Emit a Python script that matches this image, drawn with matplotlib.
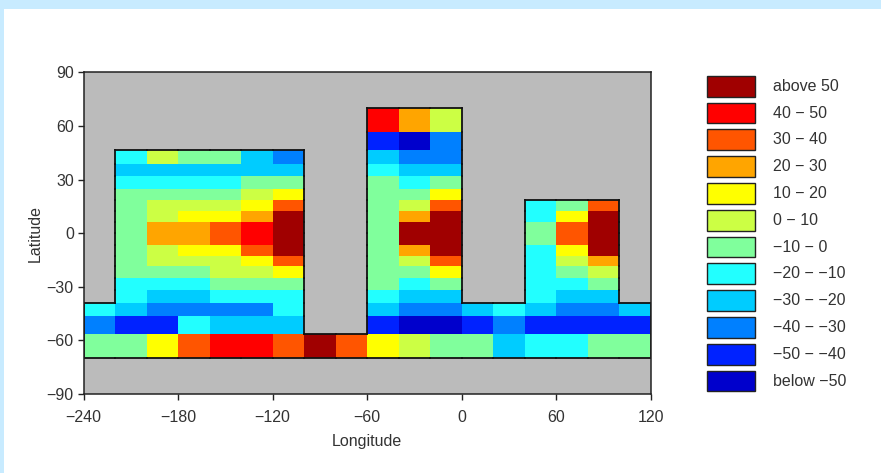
import numpy as np
import matplotlib
matplotlib.use('Agg')
import matplotlib.pyplot as plt
from matplotlib.colors import ListedColormap, BoundaryNorm
from matplotlib.collections import LineCollection
from matplotlib.patches import Rectangle

plt.rcParams['font.family'] = ['Liberation Sans', 'DejaVu Sans']

lon_edges = np.arange(-240, 121, 20)
lat_edges = [-70, -56.5, -46.6, -39, -32, -25, -18.6, -12.6, -6.5, 0,
             6.5, 12.6, 18.6, 25, 32, 39, 46.6, 56.5, 70]

n = np.nan
# one row per latitude band, south to north; nan is land
anomaly = np.array([
    [-5, -5, 15, 35, 45, 45, 35, 55, 35, 15, 5, -5, -5, -25, -15, -15, -5, -5],
    [-35, -45, -45, -15, -25, -25, -25, n, n, -45, -55, -55, -45, -35, -45, -45, -45, -45],
    [-15, -25, -35, -35, -35, -35, -15, n, n, -25, -35, -35, -25, -15, -25, -35, -35, -25],
    [n, -15, -25, -25, -15, -15, -15, n, n, -15, -25, -25, n, n, -15, -25, -25, n],
    [n, -15, -15, -15, -5, -5, -5, n, n, -5, -15, -5, n, n, -15, -15, -5, n],
    [n, -5, -5, -5, 5, 5, 15, n, n, -5, -5, 15, n, n, -15, -5, 5, n],
    [n, -5, 5, 5, 5, 15, 35, n, n, -5, 5, 35, n, n, -15, 5, 25, n],
    [n, -5, 5, 15, 15, 35, 55, n, n, -5, 25, 55, n, n, -15, 15, 55, n],
    [n, -5, 25, 25, 35, 45, 55, n, n, -5, 55, 55, n, n, -5, 35, 55, n],
    [n, -5, 25, 25, 35, 45, 55, n, n, -5, 55, 55, n, n, -5, 35, 55, n],
    [n, -5, 5, 15, 15, 25, 55, n, n, -5, 25, 55, n, n, -15, 15, 55, n],
    [n, -5, 5, 5, 5, 15, 35, n, n, -5, 5, 35, n, n, -15, -5, 35, n],
    [n, -5, -5, -5, -5, 5, 15, n, n, -5, -5, 15, n, n, n, n, n, n],
    [n, -15, -15, -15, -15, -5, -5, n, n, -5, -15, -5, n, n, n, n, n, n],
    [n, -25, -25, -25, -25, -25, -25, n, n, -15, -25, -25, n, n, n, n, n, n],
    [n, -15, 5, -5, -5, -25, -35, n, n, -25, -35, -35, n, n, n, n, n, n],
    [n, n, n, n, n, n, n, n, n, -45, -55, -35, n, n, n, n, n, n],
    [n, n, n, n, n, n, n, n, n, 45, 25, 5, n, n, n, n, n, n],
])

levels = [-60, -50, -40, -30, -20, -10, 0, 10, 20, 30, 40, 50, 60]
colors = ['#0000cc', '#0022ff', '#0080ff', '#00ccff', '#22ffff', '#80ff9c',
          '#ccff44', '#ffff00', '#ffa500', '#ff5500', '#ff0000', '#a00000']
labels = ['below \u221250', '\u221250 \u2212 \u221240', '\u221240 \u2212 \u221230',
          '\u221230 \u2212 \u221220', '\u221220 \u2212 \u221210', '\u221210 \u2212 0',
          '0 \u2212 10', '10 \u2212 20', '20 \u2212 30', '30 \u2212 40', '40 \u2212 50',
          'above 50']
xticks = [-240, -180, -120, -60, 0, 60, 120]
yticks = [-90, -60, -30, 0, 30, 60, 90]

text_color = '#333333'
font_size = 11.5
W, H = 881, 473


def box(left, top, right, bottom):
    # pixel box (from the top left) to figure fractions
    return [left / W, 1 - bottom / H, (right - left) / W, (bottom - top) / H]


def outline(ax, data):
    # black line wherever a data cell meets a land cell
    valid = ~np.isnan(data)
    padded = np.pad(valid, 1, constant_values=False)
    segs = []
    for j in range(data.shape[0]):
        for i in range(data.shape[1]):
            if not valid[j, i]:
                continue
            x0, x1 = lon_edges[i], lon_edges[i + 1]
            y0, y1 = lat_edges[j], lat_edges[j + 1]
            if not padded[j, i + 1]:
                segs.append([(x0, y0), (x1, y0)])
            if not padded[j + 2, i + 1]:
                segs.append([(x0, y1), (x1, y1)])
            if not padded[j + 1, i]:
                segs.append([(x0, y0), (x0, y1)])
            if not padded[j + 1, i + 2]:
                segs.append([(x1, y0), (x1, y1)])
    ax.add_collection(LineCollection(segs, colors='#111111', linewidths=1.3, capstyle='projecting'))


fig = plt.figure(figsize=(W / 100, H / 100), dpi=100, facecolor='#c8ebff')
fig.add_artist(Rectangle((4 / W, 0), 1 - 4 / W, 1 - 9 / H, transform=fig.transFigure,
                         facecolor='white', edgecolor='none', zorder=-1))

ax = fig.add_axes(box(83.5, 72.5, 651, 394))
ax.set_facecolor('#bbbbbb')
cmap = ListedColormap(colors)
norm = BoundaryNorm(levels, cmap.N)
ax.pcolormesh(lon_edges, lat_edges, np.ma.masked_invalid(anomaly), cmap=cmap, norm=norm)
outline(ax, anomaly)
ax.set_xlim(-240, 120)
ax.set_ylim(-90, 90)
ax.set_xticks(xticks)
ax.set_yticks(yticks)
ax.tick_params(direction='out', length=4.5, width=1.0, labelsize=font_size,
               color='#222222', labelcolor=text_color)
ax.tick_params(axis='x', pad=7)
ax.tick_params(axis='y', pad=2.5)
for s in ax.spines.values():
    s.set_linewidth(1.1)
    s.set_color('#222222')
ax.set_xlabel('Longitude', fontsize=font_size, color=text_color, labelpad=6.5)
ax.set_ylabel('Latitude', fontsize=font_size, color=text_color, labelpad=3)

# legend as its own small axes, top row is the hottest class
lax = fig.add_axes(box(700, 72.8, 860, 394.4))
rows = np.arange(len(colors))
lax.barh(rows, 48, left=7, height=0.78, color=colors, edgecolor='#222222', linewidth=1.0)
for r, lab in zip(rows, labels):
    lax.text(73, r, lab, va='center', ha='left', fontsize=font_size, color=text_color)
lax.set_xlim(0, 160)
lax.set_ylim(-0.5, len(colors) - 0.5)
lax.axis('off')

fig.savefig('out.png', dpi=100, facecolor=fig.get_facecolor())
